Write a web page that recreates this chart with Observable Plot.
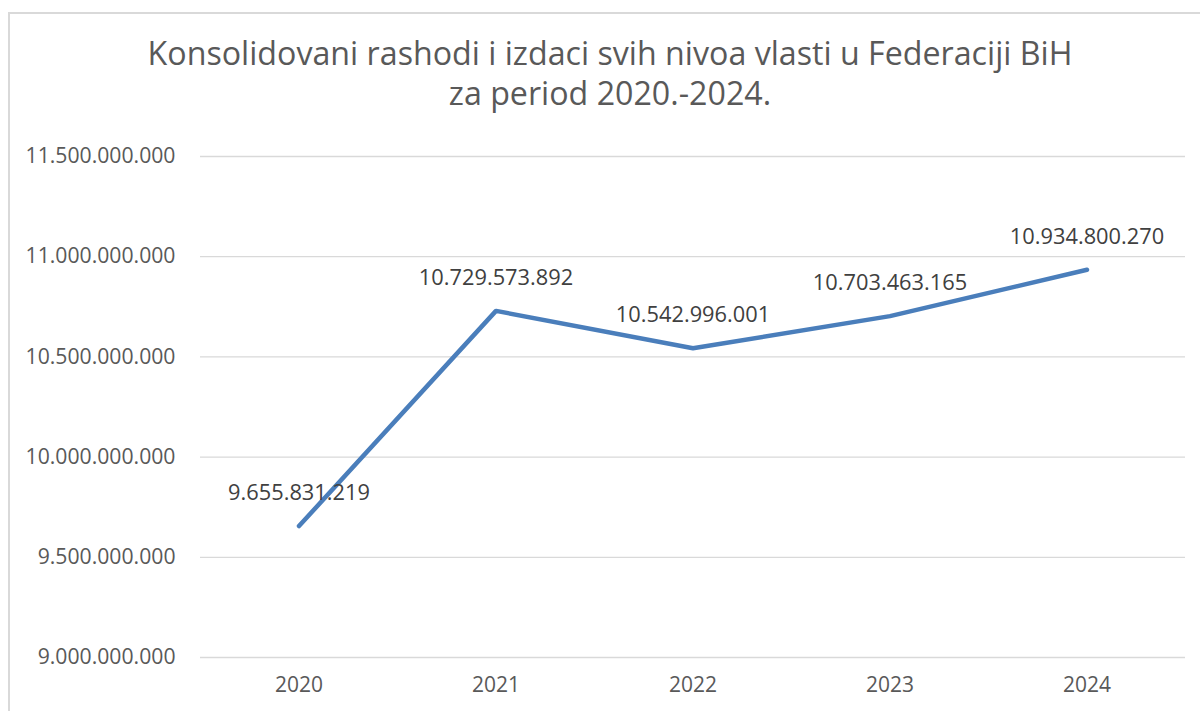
<!DOCTYPE html>
<html>
<head>
<meta charset="utf-8">
<script src="https://cdn.jsdelivr.net/npm/d3@7"></script>
<script src="https://cdn.jsdelivr.net/npm/@observablehq/plot@0.6"></script>
<style>
  html, body { margin: 0; padding: 0; background: #fff; overflow: hidden; }
  body { width: 1200px; height: 711px; position: relative; font-family: "Open Sans", sans-serif; }
  #frame { position: absolute; left: 8px; top: 12px; width: 1300px; height: 800px; border: 2px solid #d9d9d9; box-sizing: border-box; }
  #title { position: absolute; left: 0; top: 33px; width: 1220px; text-align: center; color: #595959; font-size: 32.2px; line-height: 40px; }
  #chart { position: absolute; left: 0; top: 130px; }
</style>
</head>
<body>
<div id="frame"></div>
<div id="title">Konsolidovani rashodi i izdaci svih nivoa vlasti u Federaciji BiH<br>za period 2020.-2024.</div>
<div id="chart"></div>
<script>
const years = ["2020", "2021", "2022", "2023", "2024"];
const values = [9655831219, 10729573892, 10542996001, 10703463165, 10934800270];
const yTicks = [9000000000, 9500000000, 10000000000, 10500000000, 11000000000, 11500000000];

const data = years.map((y, i) => ({year: y, value: values[i]}));
const fmt = v => d3.format(",")(v).replace(/,/g, ".");

const chart = Plot.plot({
  width: 1200,
  height: 581,
  marginLeft: 200,
  marginRight: 15,
  marginTop: 26,
  marginBottom: 54,
  style: {fontFamily: "'Open Sans', sans-serif", background: "transparent"},
  x: {type: "band", domain: years, padding: 0, label: null},
  y: {domain: [9000000000, 11500000000], label: null},
  marks: [
    Plot.gridY(yTicks, {stroke: "#d9d9d9", strokeOpacity: 1, strokeWidth: 1.3}),
    Plot.axisY(yTicks, {tickSize: 0, tickPadding: 25, tickFormat: fmt, fontSize: 21.2, fill: "#595959", label: null}),
    Plot.axisX({tickSize: 0, tickPadding: 20, fontSize: 21, fill: "#595959", label: null}),
    Plot.line(data, {x: "year", y: "value", stroke: "#4a7ebb", strokeWidth: 4.5, strokeLinecap: "round", strokeLinejoin: "round"}),
    Plot.text(data, {x: "year", y: "value", text: d => fmt(d.value), dy: -33, fontSize: 21.8, fill: "#404040"})
  ]
});
document.getElementById("chart").appendChild(chart);
</script>
</body>
</html>
